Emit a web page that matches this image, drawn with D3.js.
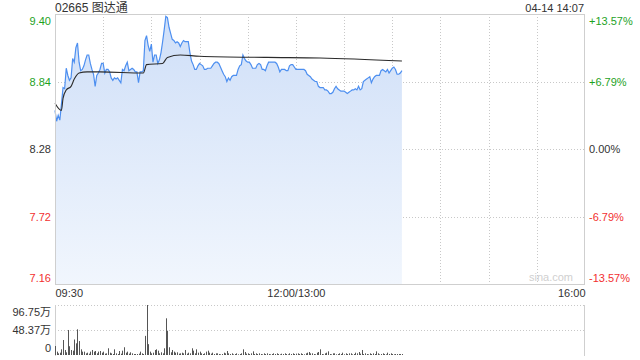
<!DOCTYPE html>
<html>
<head>
<meta charset="utf-8">
<script src="https://cdn.jsdelivr.net/npm/d3@7"></script>
<style>
  body { margin: 0; background: #fff; }
  svg { display: block; font-family: "Liberation Sans", Arial, "Noto Sans CJK SC", sans-serif; }
</style>
</head>
<body>
<div class="container"></div>
<script>
const title = '02665 图达通',
    stamp = '04-14 14:07',
    prevClose = 8.28,
    priceTicks = [7.16, 7.72, 8.28, 8.84, 9.40],
    pctTicks = ['-13.57%', '-6.79%', '0.00%', '+6.79%', '+13.57%'],
    timeLabels = [[0, '09:30'], [150, '12:00/13:00'], [330, '16:00']],
    volTicks = [[0, '0'], [48.37, '48.37万'], [96.75, '96.75万']];

// one price per minute from 09:30
const prices = [
    8.60, 8.51, 8.56, 8.52, 8.65, 8.79, 8.78, 8.95, 8.89, 8.85,
    8.87, 9.03, 9.00, 9.12, 9.16, 9.00, 8.93, 8.94, 8.97, 9.02,
    9.06, 9.06, 8.99, 8.94, 8.90, 8.80, 8.89, 8.91, 8.94, 8.99,
    8.99, 8.91, 8.94, 8.94, 8.92, 8.87, 8.85, 8.87, 8.86, 8.87,
    8.85, 8.83, 8.94, 8.93, 8.97, 9.00, 8.93, 8.94, 8.95, 8.94,
    8.92, 8.92, 8.83, 8.92, 8.92, 8.93, 9.18, 9.22, 9.14, 9.09,
    9.15, 9.00, 9.06, 9.06, 8.99, 9.02, 9.08, 9.17, 9.27, 9.38,
    9.37, 9.29, 9.24, 9.19, 9.18, 9.16, 9.17, 9.16, 9.13, 9.16,
    9.18, 9.17, 9.17, 9.17, 9.08, 9.01, 8.98, 8.94, 8.94, 8.97,
    8.99, 8.98, 8.97, 8.94, 8.94, 8.95, 8.95, 8.95, 8.97, 8.99,
    9.00, 9.00, 8.99, 8.96, 8.93, 8.90, 8.88, 8.84, 8.87, 8.85,
    8.88, 8.89, 8.89, 8.89, 8.94, 8.97, 8.98, 9.06, 9.03, 9.01,
    9.00, 9.00, 8.98, 8.95, 8.95, 8.95, 8.98, 8.99, 8.98, 8.94,
    8.94, 8.93, 8.97, 9.00, 9.00, 9.00, 9.00, 9.00, 8.99, 8.96,
    8.92, 8.94, 8.94, 8.94, 8.93, 8.93, 8.97, 8.98, 8.98, 8.96,
    8.94, 8.94, 8.94, 8.94, 8.94, 8.94, 8.93, 8.90, 8.89, 8.88,
    8.86, 8.85, 8.84, 8.84, 8.80, 8.79, 8.79, 8.79, 8.77, 8.77,
    8.76, 8.74, 8.74, 8.75, 8.78, 8.80, 8.78, 8.77, 8.76, 8.76,
    8.76, 8.75, 8.74, 8.75, 8.76, 8.77, 8.77, 8.78, 8.77, 8.80,
    8.77, 8.78, 8.84, 8.85, 8.86, 8.87, 8.88, 8.83, 8.86, 8.88,
    8.89, 8.89, 8.89, 8.93, 8.94, 8.93, 8.92, 8.94, 8.91, 8.93,
    8.95, 8.96, 8.94, 8.90, 8.90, 8.91, 8.93
];

// volume per minute, 万股
const volumes = [
    17.4, 6.5, 3.2, 4.5, 11, 29, 9.7, 5.2, 48.4, 17,
    9.7, 8.4, 30, 22.6, 49.7, 27, 11, 6.5, 6.5, 3.2,
    4.5, 2.6, 6.5, 9.7, 6.5, 7.7, 3.2, 6.5, 7.7, 4.5,
    6.5, 2.6, 3.2, 13, 4.5, 3.2, 1.9, 11, 3.2, 1.9,
    7.7, 2.6, 8.4, 15, 4.5, 6.5, 2.6, 5.2, 3.2, 1.9,
    1.9, 1.9, 2.6, 6.5, 3.2, 1.9, 37, 96.75, 21, 6.5,
    3.2, 4.5, 9.7, 11, 8.4, 3.2, 5.2, 3.2, 13, 71,
    47, 15, 5.2, 9.7, 6.5, 4.5, 5.2, 2.6, 3.2, 4.5,
    3.2, 9.7, 2.6, 4.5, 3.2, 13, 8.4, 3.2, 11, 4.5,
    6.5, 3.2, 1.9, 3.2, 6.5, 8.4, 4.5, 2.6, 4.5, 1.9,
    3.2, 3.2, 1.9, 1.3, 1.9, 4.5, 3.2, 7.7, 3.2, 1.9,
    3.2, 1.3, 1.9, 3.2, 1.3, 1.9, 3.2, 11, 5.8, 2.6,
    3.2, 1.9, 3.2, 7.1, 1.9, 3.2, 1.9, 3.2, 1.9, 1.3,
    3.2, 1.9, 3.2, 1.9, 1.3, 1.9, 3.2, 1.9, 3.2, 1.9,
    1.3, 2.5, 1.9, 3.2, 1.9, 1.3, 3.2, 1.9, 3.2, 1.9,
    2.6, 3.2, 1.9, 3.2, 1.9, 1.3, 3.2, 4.5, 5.8, 3.2,
    3.2, 1.9, 1.3, 4.5, 5.8, 11, 1.9, 1.3, 3.2, 4.5,
    7.1, 1.9, 1.3, 3.2, 3.2, 1.3, 1.9, 3.2, 1.9, 4.5,
    1.3, 3.2, 1.9, 3.2, 3.2, 1.3, 1.9, 4.5, 3.2, 5.8,
    2.6, 9.7, 1.9, 3.2, 1.9, 1.3, 3.2, 1.9, 3.2, 1.9,
    7.1, 3.2, 1.3, 1.9, 3.2, 1.9, 1.3, 4.5, 1.9, 3.2,
    1.9, 1.3, 1.9, 1.9, 1.9, 1.9, 1.9
];

// average price line, sampled at these minutes
const avgMinutes = [0, 4, 5, 7, 10, 12, 15, 20, 28, 55, 57, 67, 70, 78, 90, 132, 165, 216];
const avgPrices = [8.66, 8.60, 8.70, 8.77, 8.80, 8.86, 8.91, 8.92, 8.92, 8.91, 8.98, 8.99, 9.04, 9.06, 9.05, 9.04, 9.035, 9.01];

const W = 640, H = 360,
    plot = {left: 55, right: 585, top: 14, bottom: 284},
    vol = {top: 305, bottom: 355},
    green = '#1ea21e', red = '#f23030', grey = '#333';

const colorFor = v => v > prevClose + 1e-9 ? green : (v < prevClose - 1e-9 ? red : grey);

const svg = d3.select('.container')
    .append('svg')
    .attr('width', W)
    .attr('height', H);

const x = d3.scaleLinear().domain([0, 330]).range([plot.left, plot.right]);
const y = d3.scaleLinear().domain([7.16, 9.40]).range([plot.bottom, plot.top]);
const yv = d3.scaleLinear().domain([0, 96.75]).range([vol.bottom, vol.top]);

const defs = svg.append('defs');
const grad = defs.append('linearGradient')
    .attr('id', 'fill')
    .attr('x1', 0).attr('y1', 0).attr('x2', 0).attr('y2', 1);
grad.append('stop').attr('offset', '0%').attr('stop-color', '#cfdff8');
grad.append('stop').attr('offset', '100%').attr('stop-color', '#f1f6fd');

// grid
const grid = svg.append('g');
d3.range(30, 330, 30).forEach(m => {
    grid.append('line')
        .attr('x1', Math.round(x(m)) + 0.5).attr('x2', Math.round(x(m)) + 0.5)
        .attr('y1', plot.top).attr('y2', plot.bottom)
        .attr('stroke', '#c8c8c8').attr('stroke-dasharray', '1,2');
});
priceTicks.slice(1, -1).forEach(p => {
    grid.append('line')
        .attr('x1', plot.left).attr('x2', plot.right)
        .attr('y1', Math.round(y(p)) + 0.5).attr('y2', Math.round(y(p)) + 0.5)
        .attr('stroke', '#c8c8c8').attr('stroke-dasharray', '1,2');
});

// price area + line
const area = d3.area()
    .x((d, i) => x(i))
    .y0(plot.bottom)
    .y1(d => y(d));
svg.append('path')
    .datum(prices)
    .attr('d', area)
    .attr('fill', 'url(#fill)');

const line = d3.line()
    .x((d, i) => x(i))
    .y(d => y(d));
svg.append('path')
    .datum(prices)
    .attr('d', line)
    .attr('fill', 'none')
    .attr('stroke', '#4d8ff0')
    .attr('stroke-width', 1.2);

svg.append('path')
    .datum(avgMinutes.map((m, i) => [m, avgPrices[i]]))
    .attr('d', d3.line().x(d => x(d[0])).y(d => y(d[1])).curve(d3.curveMonotoneX))
    .attr('fill', 'none')
    .attr('stroke', '#2b2b2b')
    .attr('stroke-width', 1.1);

// frame
svg.append('rect')
    .attr('x', plot.left + 0.5).attr('y', plot.top + 0.5)
    .attr('width', plot.right - plot.left - 1).attr('height', plot.bottom - plot.top)
    .attr('fill', 'none').attr('stroke', '#cfcfcf');

svg.append('text')
    .attr('x', 573).attr('y', 281)
    .attr('text-anchor', 'end')
    .attr('font-size', 11).attr('fill', '#d0d0d0')
    .text('sina.com');

// left price axis
const yAxisL = d3.axisLeft(y).tickValues(priceTicks).tickSize(0).tickPadding(4).tickFormat(d3.format('.2f'));
const gL = svg.append('g')
    .attr('transform', `translate(${plot.left}, 0)`)
    .call(yAxisL);
gL.select('.domain').remove();
gL.selectAll('text')
    .attr('font-size', 11)
    .attr('font-family', '"Liberation Sans", Arial, sans-serif')
    .attr('fill', d => colorFor(d))
    .attr('dy', d => d === 9.40 ? '0.95em' : (d === 7.16 ? '-0.2em' : '0.32em'));

// right percent axis
const yAxisR = d3.axisRight(y).tickValues(priceTicks).tickSize(0).tickPadding(4)
    .tickFormat((d, i) => pctTicks[i]);
const gR = svg.append('g')
    .attr('transform', `translate(${plot.right}, 0)`)
    .call(yAxisR);
gR.select('.domain').remove();
gR.selectAll('text')
    .attr('font-size', 11)
    .attr('font-family', '"Liberation Sans", Arial, sans-serif')
    .attr('fill', d => colorFor(d))
    .attr('dy', d => d === 9.40 ? '0.95em' : (d === 7.16 ? '-0.2em' : '0.32em'));

// time axis
const xAxis = d3.axisBottom(x)
    .tickValues(timeLabels.map(d => d[0]))
    .tickSize(0).tickPadding(5)
    .tickFormat((d, i) => timeLabels[i][1]);
const gX = svg.append('g')
    .attr('transform', `translate(0, ${plot.bottom})`)
    .call(xAxis);
gX.select('.domain').remove();
gX.selectAll('text')
    .attr('font-size', 11)
    .attr('font-family', '"Liberation Sans", Arial, sans-serif')
    .attr('fill', grey)
    .attr('text-anchor', (d, i) => i === 0 ? 'start' : (i === timeLabels.length - 1 ? 'end' : 'middle'));

// volume panel
volTicks.slice(1).forEach(t => {
    svg.append('line')
        .attr('x1', plot.left).attr('x2', plot.right)
        .attr('y1', Math.round(yv(t[0])) + 0.5).attr('y2', Math.round(yv(t[0])) + 0.5)
        .attr('stroke', '#c8c8c8').attr('stroke-dasharray', '1,2');
});
[plot.left + 0.5, plot.right - 0.5].forEach(px => {
    svg.append('line')
        .attr('x1', px).attr('x2', px)
        .attr('y1', vol.top).attr('y2', vol.bottom + 1)
        .attr('stroke', '#cfcfcf');
});

svg.append('g')
    .selectAll('rect')
    .data(volumes)
    .join('rect')
    .attr('x', (d, i) => Math.round(x(i)))
    .attr('width', 1)
    .attr('y', d => yv(d))
    .attr('height', d => vol.bottom - yv(d))
    .attr('fill', '#555');

const yAxisV = d3.axisLeft(yv)
    .tickValues(volTicks.map(d => d[0]))
    .tickSize(0).tickPadding(4)
    .tickFormat((d, i) => volTicks[i][1]);
const gV = svg.append('g')
    .attr('transform', `translate(${plot.left}, 0)`)
    .call(yAxisV);
gV.select('.domain').remove();
gV.selectAll('text')
    .attr('font-size', 11)
    .attr('font-family', '"Liberation Sans", Arial, "Noto Sans CJK SC", sans-serif')
    .attr('fill', grey)
    .attr('dy', d => d === 96.75 ? '0.95em' : (d === 0 ? '-0.3em' : '0.32em'));

// header
svg.append('text')
    .attr('x', plot.left).attr('y', 12)
    .attr('font-size', 12).attr('fill', grey)
    .text(title);
svg.append('text')
    .attr('x', plot.right - 1).attr('y', 12)
    .attr('text-anchor', 'end')
    .attr('font-size', 11).attr('fill', grey)
    .text(stamp);
</script>
</body>
</html>
